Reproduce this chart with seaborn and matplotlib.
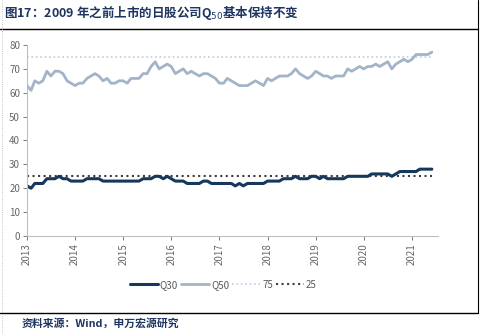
import matplotlib
matplotlib.use("Agg")
import matplotlib.pyplot as plt
import matplotlib.dates as mdates
from matplotlib.lines import Line2D
import pandas as pd
import seaborn as sns

# Monthly share values, Jan 2013 - Jun 2021
months = pd.date_range("2013-01-01", "2021-06-01", freq="MS")
q30 = [21, 20, 22, 22, 22, 24, 24, 24, 25, 24, 24, 23,
       23, 23, 23, 24, 24, 24, 24, 23, 23, 23, 23, 23,
       23, 23, 23, 23, 23, 24, 24, 24, 25, 25, 24, 25,
       24, 23, 23, 23, 22, 22, 22, 22, 23, 23, 22, 22,
       22, 22, 22, 22, 21, 22, 21, 22, 22, 22, 22, 22,
       23, 23, 23, 23, 24, 24, 24, 25, 24, 24, 24, 25,
       25, 24, 25, 24, 24, 24, 24, 24, 25, 25, 25, 25,
       25, 25, 26, 26, 26, 26, 26, 25, 26, 27, 27, 27,
       27, 27, 28, 28, 28, 28]
q50 = [63, 61, 65, 64, 65, 69, 67, 69, 69, 68, 65, 64,
       63, 64, 64, 66, 67, 68, 67, 65, 66, 64, 64, 65,
       65, 64, 66, 66, 66, 68, 68, 71, 73, 70, 71, 72,
       71, 68, 69, 70, 68, 69, 68, 67, 68, 68, 67, 66,
       64, 64, 66, 65, 64, 63, 63, 63, 64, 65, 64, 63,
       66, 65, 66, 67, 67, 67, 68, 70, 68, 67, 66, 67,
       69, 68, 67, 67, 66, 67, 67, 67, 70, 69, 70, 71,
       70, 71, 71, 72, 71, 72, 73, 70, 72, 73, 74, 73,
       74, 76, 76, 76, 76, 77]
ref_hi = 75
ref_lo = 25
series_names = ["Q30", "Q50", "75", "25"]
years = list(range(2013, 2022))

df = pd.DataFrame({"date": months, "Q30": q30, "Q50": q50,
                   "75": [ref_hi] * len(months), "25": [ref_lo] * len(months)})
long = df.melt(id_vars="date", var_name="series", value_name="value")

sns.set_theme(style="white")
plt.rcParams["font.family"] = ["Noto Sans CJK SC", "DejaVu Sans"]

navy = "#15385c"
steel = "#a3b4c8"
pale = "#b9cde2"
dark = "#3f3f3f"
palette = {"Q30": navy, "Q50": steel, "75": pale, "25": dark}
widths = {"Q30": 2.2, "Q50": 2.0, "75": 1.2, "25": 1.5}
styles = {"Q30": "-", "Q50": "-", "75": ":", "25": ":"}

fig = plt.figure(figsize=(4.8, 3.34), dpi=100)
ax = fig.add_axes([0.05625, 0.2934, 0.8569, 0.5719])

for name in ["75", "25", "Q50", "Q30"]:
    sub = long[long["series"] == name]
    sns.lineplot(data=sub, x="date", y="value", ax=ax, color=palette[name],
                 lw=widths[name], linestyle=styles[name], legend=False)

ax.set_ylim(0, 80)
ax.set_yticks(range(0, 81, 10))
ax.set_xlim(pd.Timestamp("2013-01-01"), pd.Timestamp("2021-07-20"))
ax.set_xticks([pd.Timestamp(f"{y}-01-01") for y in years])
ax.xaxis.set_major_formatter(mdates.DateFormatter("%Y"))
ax.set_xlabel("")
ax.set_ylabel("")
for lab in ax.get_xticklabels():
    lab.set_rotation(90)
ax.tick_params(axis="both", labelsize=7, colors="#666666", length=3,
               width=0.6, direction="out", pad=2)
ax.tick_params(axis="both", bottom=True, left=True)
for side in ["top", "right"]:
    ax.spines[side].set_visible(False)
for side in ["left", "bottom"]:
    ax.spines[side].set_color("#bfbfbf")
    ax.spines[side].set_linewidth(0.8)

handles = [Line2D([], [], color=palette[n], lw=widths[n], linestyle=styles[n])
           for n in series_names]
fig.legend(handles, series_names, loc="center", bbox_to_anchor=(0.465, 0.147),
           ncol=4, frameon=False, fontsize=7, handlelength=2.9,
           handletextpad=0.2, columnspacing=0.3, labelcolor="#595959")

title_color = "#1f3561"
fig.text(0.008, 0.962, "图17：2009 年之前上市的日股公司Q$_{50}$基本保持不变",
         fontsize=9, fontweight="bold", color=title_color, va="center", ha="left")
fig.text(0.046, 0.032, "资料来源：Wind，申万宏源研究", fontsize=7.8,
         fontweight="bold", color=title_color, va="center", ha="left")

# frame rules above and below the chart body
fig.add_artist(Line2D([0.0, 0.996], [1 - 29 / 334, 1 - 29 / 334],
                      transform=fig.transFigure, color="black", lw=1.0))
fig.add_artist(Line2D([0.0, 0.996], [1 - 313 / 334, 1 - 313 / 334],
                      transform=fig.transFigure, color="black", lw=1.0))
fig.add_artist(Line2D([0.996, 0.996], [1 - 313 / 334, 1.0],
                      transform=fig.transFigure, color="black", lw=0.8))
fig.add_artist(Line2D([0.004, 0.004], [0.0, 1.0], transform=fig.transFigure,
                      color="#b0b0b0", lw=0.6, linestyle=":"))

fig.savefig("out.png", dpi=100)
